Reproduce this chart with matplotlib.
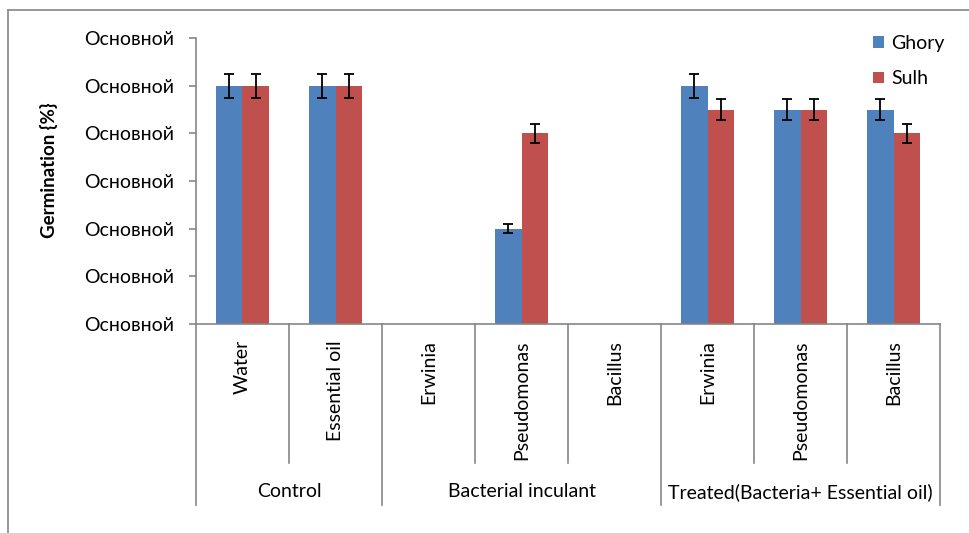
import matplotlib
matplotlib.use("Agg")
import matplotlib.pyplot as plt
import matplotlib.transforms as mtransforms
from matplotlib.lines import Line2D
import numpy as np

# Datos del grafico
categorias = ["Water", "Essential oil", "Erwinia", "Pseudomonas", "Bacillus",
              "Erwinia", "Pseudomonas", "Bacillus"]
grupos = ["Control", "Bacterial inculant", "Treated(Bacteria+ Essential oil)"]
grupo_tamano = [2, 3, 3]
ghory = [100, 100, 0, 40, 0, 100, 90, 90]
sulh = [100, 100, 0, 80, 0, 90, 90, 80]
ghory_err = [5, 5, 0, 2, 0, 5, 4.5, 4.5]
sulh_err = [5, 5, 0, 4, 0, 4.5, 4.5, 4]
series = ["Ghory", "Sulh"]
yticks = [0, 20, 40, 60, 80, 100, 120]
ytick_labels = ["Основной"] * 7

plt.rcParams['font.family'] = ['Lato', 'DejaVu Sans']

azul = "#4F81BD"
rojo = "#C0504D"
gris = "#868686"

W, H = 970, 533
fig = plt.figure(figsize=(W / 100, H / 100), dpi=100)
ax = fig.add_axes([196 / W, 1 - 324 / H, (940 - 196) / W, (324 - 38) / H])

x = np.arange(len(categorias))
ancho = 0.285
err_kw = dict(fmt="none", ecolor="black", elinewidth=1.3, capsize=3.6, capthick=1.3)

for desp, valores, errores, color, nombre in [(-ancho / 2, ghory, ghory_err, azul, series[0]),
                                               (ancho / 2, sulh, sulh_err, rojo, series[1])]:
    valores = np.array(valores, dtype=float)
    errores = np.array(errores, dtype=float)
    ax.bar(x + desp, valores, ancho, color=color, linewidth=0, label=nombre)
    m = valores > 0
    ax.errorbar(x[m] + desp, valores[m], yerr=errores[m], **err_kw)

ax.set_xlim(-0.5, len(categorias) - 0.5)
ax.set_ylim(0, 120)
ax.set_yticks(yticks)
ax.set_yticklabels(ytick_labels, fontsize=14)
ax.tick_params(axis="y", direction="out", length=5, color=gris, width=1.2, pad=11)
ax.set_xticks([])
for s in ["top", "right"]:
    ax.spines[s].set_visible(False)
ax.spines["left"].set_color(gris)
ax.spines["bottom"].set_color(gris)
ax.spines["left"].set_linewidth(1.2)
ax.spines["bottom"].set_linewidth(1.2)

# Etiquetas de categorias y separadores bajo el eje
trans = mtransforms.blended_transform_factory(ax.transData, ax.transAxes)
limites_grupo = np.cumsum([0] + grupo_tamano) - 0.5
for i, cat in enumerate(categorias):
    ax.text(i, -0.056, cat, rotation=90, ha="center", va="top", fontsize=14,
            transform=trans)
for b in np.arange(len(categorias) + 1) - 0.5:
    fondo = -0.633 if b in limites_grupo else -0.486
    ax.add_line(Line2D([b, b], [0, fondo], color=gris, lw=1.2, transform=trans,
                       clip_on=False))
for j, g in enumerate(grupos):
    centro = (limites_grupo[j] + limites_grupo[j + 1]) / 2
    ax.text(centro, -0.587, g, ha="center", va="center", fontsize=14, transform=trans)

# Leyenda
ax.legend(loc="upper left", bbox_to_anchor=(873 / W, 1 - 35 / H),
          bbox_transform=fig.transFigure, frameon=False, fontsize=14,
          handlelength=0.55, handleheight=0.55, handletextpad=0.4, labelspacing=0.95,
          borderaxespad=0, borderpad=0)

# Titulo del eje y
fig.text(49 / W, 1 - 170 / H, "Germination {%}", rotation=90, ha="center",
         va="center", fontsize=13.5, fontweight="bold")

# Borde exterior
fig.add_artist(Line2D([8.5 / W, 8.5 / W], [-0.1, 1 - 10 / H], color=gris, lw=1.2))
fig.add_artist(Line2D([8.5 / W, 1.1], [1 - 10 / H, 1 - 10 / H], color=gris, lw=1.2))

fig.savefig("out.png", dpi=100)
